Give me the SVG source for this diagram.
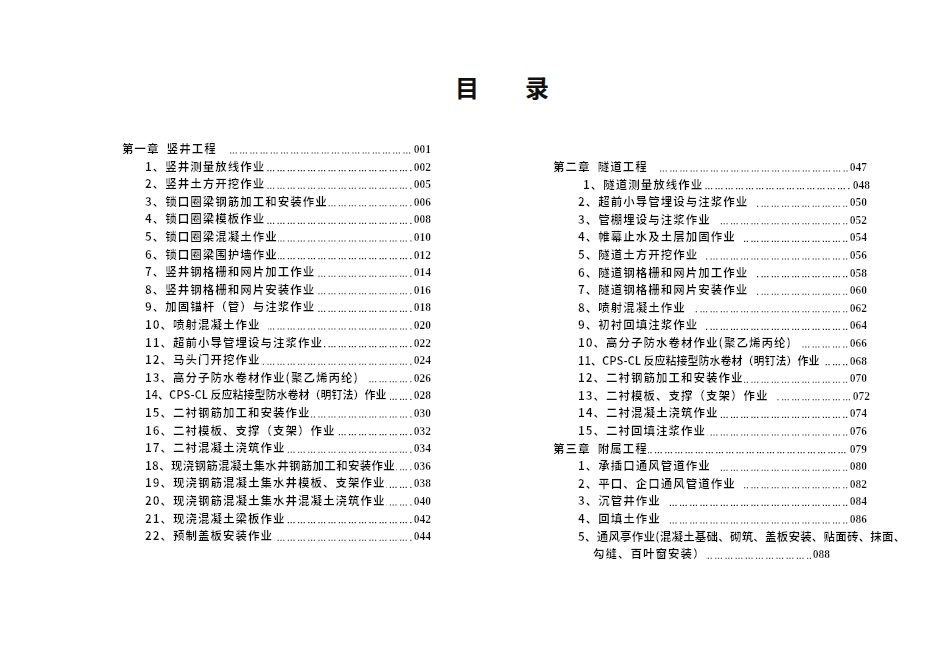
<svg xmlns="http://www.w3.org/2000/svg" width="950" height="672" viewBox="0 0 950 672">
<defs>
<filter id="bg" x="0" y="0" width="1" height="1"><feFlood flood-color="#fff"/><feMerge><feMergeNode/><feMergeNode in="SourceGraphic"/></feMerge></filter>
</defs>
<style>
text{font-family:"Noto Sans CJK SC","Noto Sans",sans-serif;font-size:11.5px;fill:#111;font-weight:700}
.t{font-size:24px;font-weight:700}
.l{filter:url(#bg);letter-spacing:1px}
.n{filter:url(#bg);text-anchor:end;font-family:"Liberation Serif",serif;font-weight:700;font-size:11.5px}
.d line{stroke:#222;stroke-width:1.1;stroke-dasharray:1.2 1.6 1.2 1.6 1.2 3.4}
</style>
<rect width="950" height="672" fill="#fff"/>
<g id="title"><text class="t" x="455" y="97">目</text><text class="t" x="525" y="97">录</text></g>
<g id="connectors" class="d">
<line x1="230" y1="153" x2="412" y2="153"/>
<line x1="145" y1="170.6" x2="412" y2="170.6"/><line x1="145" y1="188.2" x2="412" y2="188.2"/><line x1="145" y1="205.8" x2="412" y2="205.8"/><line x1="145" y1="223.4" x2="412" y2="223.4"/><line x1="145" y1="241" x2="412" y2="241"/><line x1="145" y1="258.6" x2="412" y2="258.6"/><line x1="145" y1="276.2" x2="412" y2="276.2"/><line x1="145" y1="293.8" x2="412" y2="293.8"/><line x1="145" y1="311.4" x2="412" y2="311.4"/><line x1="145" y1="329" x2="412" y2="329"/><line x1="145" y1="346.6" x2="412" y2="346.6"/><line x1="145" y1="364.2" x2="412" y2="364.2"/><line x1="145" y1="381.8" x2="412" y2="381.8"/><line x1="145" y1="399.4" x2="412" y2="399.4"/><line x1="145" y1="417" x2="412" y2="417"/><line x1="145" y1="434.6" x2="412" y2="434.6"/><line x1="145" y1="452.2" x2="412" y2="452.2"/><line x1="145" y1="469.8" x2="412" y2="469.8"/><line x1="145" y1="487.4" x2="412" y2="487.4"/><line x1="145" y1="505" x2="412" y2="505"/><line x1="145" y1="522.6" x2="412" y2="522.6"/><line x1="145" y1="540.2" x2="412" y2="540.2"/>
<line x1="660" y1="171" x2="848" y2="171"/>
<line x1="583" y1="188.6" x2="851" y2="188.6"/><line x1="578" y1="206.2" x2="848" y2="206.2"/><line x1="578" y1="223.8" x2="848" y2="223.8"/><line x1="578" y1="241.4" x2="848" y2="241.4"/><line x1="578" y1="259" x2="848" y2="259"/><line x1="578" y1="276.6" x2="848" y2="276.6"/><line x1="578" y1="294.2" x2="848" y2="294.2"/><line x1="578" y1="311.8" x2="848" y2="311.8"/><line x1="578" y1="329.4" x2="848" y2="329.4"/><line x1="578" y1="347" x2="848" y2="347"/><line x1="578" y1="364.6" x2="848" y2="364.6"/><line x1="578" y1="382.2" x2="848" y2="382.2"/><line x1="578" y1="399.8" x2="851" y2="399.8"/><line x1="578" y1="417.4" x2="848" y2="417.4"/><line x1="578" y1="435" x2="848" y2="435"/>
<line x1="553" y1="452.6" x2="848" y2="452.6"/>
<line x1="578" y1="470.2" x2="848" y2="470.2"/><line x1="578" y1="487.8" x2="848" y2="487.8"/><line x1="578" y1="505.4" x2="848" y2="505.4"/><line x1="578" y1="523" x2="848" y2="523"/>
<line x1="705" y1="558.2" x2="812" y2="558.2"/>
</g>
<g id="ch1"><text class="l" x="122" y="153">第一章&#160;&#160;竖井工程&#160;&#160;</text><text class="n" x="431" y="153">001</text></g>
<g id="l1"><text class="l" x="145" y="170.6">1、竖井测量放线作业</text><text class="n" x="431" y="170.6">002</text></g>
<g id="l2"><text class="l" x="145" y="188.2">2、竖井土方开挖作业</text><text class="n" x="431" y="188.2">005</text></g>
<g id="l3"><text class="l" x="145" y="205.8">3、锁口圈梁钢筋加工和安装作业</text><text class="n" x="431" y="205.8">006</text></g>
<g id="l4"><text class="l" x="145" y="223.4">4、锁口圈梁模板作业</text><text class="n" x="431" y="223.4">008</text></g>
<g id="l5"><text class="l" x="145" y="241">5、锁口圈梁混凝土作业</text><text class="n" x="431" y="241">010</text></g>
<g id="l6"><text class="l" x="145" y="258.6">6、锁口圈梁围护墙作业</text><text class="n" x="431" y="258.6">012</text></g>
<g id="l7"><text class="l" x="145" y="276.2">7、竖井钢格栅和网片加工作业</text><text class="n" x="431" y="276.2">014</text></g>
<g id="l8"><text class="l" x="145" y="293.8">8、竖井钢格栅和网片安装作业</text><text class="n" x="431" y="293.8">016</text></g>
<g id="l9"><text class="l" x="145" y="311.4">9、加固锚杆（管）与注浆作业</text><text class="n" x="431" y="311.4">018</text></g>
<g id="l10"><text class="l" x="145" y="329">10、喷射混凝土作业&#160;&#160;</text><text class="n" x="431" y="329">020</text></g>
<g id="l11"><text class="l" x="145" y="346.6">11、超前小导管埋设与注浆作业</text><text class="n" x="431" y="346.6">022</text></g>
<g id="l12"><text class="l" x="145" y="364.2">12、马头门开挖作业</text><text class="n" x="431" y="364.2">024</text></g>
<g id="l13"><text class="l" x="145" y="381.8">13、高分子防水卷材作业(聚乙烯丙纶)&#160;&#160;</text><text class="n" x="431" y="381.8">026</text></g>
<g id="l14"><text class="l" x="145" y="399.4" style="letter-spacing:0;font-size:11px">14、CPS-CL 反应粘接型防水卷材（明钉法）作业&#160;</text><text class="n" x="431" y="399.4">028</text></g>
<g id="l15"><text class="l" x="145" y="417">15、二衬钢筋加工和安装作业</text><text class="n" x="431" y="417">030</text></g>
<g id="l16"><text class="l" x="145" y="434.6">16、二衬模板、支撑（支架）作业</text><text class="n" x="431" y="434.6">032</text></g>
<g id="l17"><text class="l" x="145" y="452.2">17、二衬混凝土浇筑作业</text><text class="n" x="431" y="452.2">034</text></g>
<g id="l18"><text class="l" x="145" y="469.8" style="letter-spacing:0.3px">18、现浇钢筋混凝土集水井钢筋加工和安装作业</text><text class="n" x="431" y="469.8">036</text></g>
<g id="l19"><text class="l" x="145" y="487.4">19、现浇钢筋混凝土集水井模板、支架作业</text><text class="n" x="431" y="487.4">038</text></g>
<g id="l20"><text class="l" x="145" y="505">20、现浇钢筋混凝土集水井混凝土浇筑作业</text><text class="n" x="431" y="505">040</text></g>
<g id="l21"><text class="l" x="145" y="522.6">21、现浇混凝土梁板作业</text><text class="n" x="431" y="522.6">042</text></g>
<g id="l22"><text class="l" x="145" y="540.2">22、预制盖板安装作业</text><text class="n" x="431" y="540.2">044</text></g>
<g id="ch2"><text class="l" x="553" y="171">第二章&#160;&#160;隧道工程&#160;&#160;</text><text class="n" x="867" y="171">047</text></g>
<g id="r1"><text class="l" x="583" y="188.6">1、隧道测量放线作业</text><text class="n" x="870" y="188.6">048</text></g>
<g id="r2"><text class="l" x="578" y="206.2">2、超前小导管埋设与注浆作业&#160;&#160;</text><text class="n" x="867" y="206.2">050</text></g>
<g id="r3"><text class="l" x="578" y="223.8">3、管棚埋设与注浆作业&#160;&#160;</text><text class="n" x="867" y="223.8">052</text></g>
<g id="r4"><text class="l" x="578" y="241.4">4、帷幕止水及土层加固作业&#160;&#160;</text><text class="n" x="867" y="241.4">054</text></g>
<g id="r5"><text class="l" x="578" y="259">5、隧道土方开挖作业&#160;&#160;</text><text class="n" x="867" y="259">056</text></g>
<g id="r6"><text class="l" x="578" y="276.6">6、隧道钢格栅和网片加工作业&#160;&#160;</text><text class="n" x="867" y="276.6">058</text></g>
<g id="r7"><text class="l" x="578" y="294.2">7、隧道钢格栅和网片安装作业&#160;&#160;</text><text class="n" x="867" y="294.2">060</text></g>
<g id="r8"><text class="l" x="578" y="311.8">8、喷射混凝土作业&#160;&#160;</text><text class="n" x="867" y="311.8">062</text></g>
<g id="r9"><text class="l" x="578" y="329.4">9、初衬回填注浆作业&#160;&#160;</text><text class="n" x="867" y="329.4">064</text></g>
<g id="r10"><text class="l" x="578" y="347">10、高分子防水卷材作业(聚乙烯丙纶)&#160;&#160;</text><text class="n" x="867" y="347">066</text></g>
<g id="r11"><text class="l" x="578" y="364.6" style="letter-spacing:0;font-size:11px">11、CPS-CL 反应粘接型防水卷材（明钉法）作业&#160;&#160;</text><text class="n" x="867" y="364.6">068</text></g>
<g id="r12"><text class="l" x="578" y="382.2">12、二衬钢筋加工和安装作业</text><text class="n" x="867" y="382.2">070</text></g>
<g id="r13"><text class="l" x="578" y="399.8">13、二衬模板、支撑（支架）作业&#160;&#160;</text><text class="n" x="870" y="399.8">072</text></g>
<g id="r14"><text class="l" x="578" y="417.4">14、二衬混凝土浇筑作业</text><text class="n" x="867" y="417.4">074</text></g>
<g id="r15"><text class="l" x="578" y="435">15、二衬回填注浆作业</text><text class="n" x="867" y="435">076</text></g>
<g id="ch3"><text class="l" x="553" y="452.6">第三章&#160;&#160;附属工程</text><text class="n" x="867" y="452.6">079</text></g>
<g id="s1"><text class="l" x="578" y="470.2">1、承插口通风管道作业&#160;&#160;</text><text class="n" x="867" y="470.2">080</text></g>
<g id="s2"><text class="l" x="578" y="487.8">2、平口、企口通风管道作业&#160;&#160;</text><text class="n" x="867" y="487.8">082</text></g>
<g id="s3"><text class="l" x="578" y="505.4">3、沉管井作业&#160;&#160;</text><text class="n" x="867" y="505.4">084</text></g>
<g id="s4"><text class="l" x="578" y="523">4、回填土作业&#160;&#160;</text><text class="n" x="867" y="523">086</text></g>
<g id="s5"><text class="l" x="578" y="540.6" style="letter-spacing:0.2px">5、通风亭作业(混凝土基础、砌筑、盖板安装、贴面砖、抹面、</text><text class="l" x="593" y="558.2">勾缝、百叶窗安装）</text><text class="n" x="830" y="558.2">088</text></g>
</svg>
